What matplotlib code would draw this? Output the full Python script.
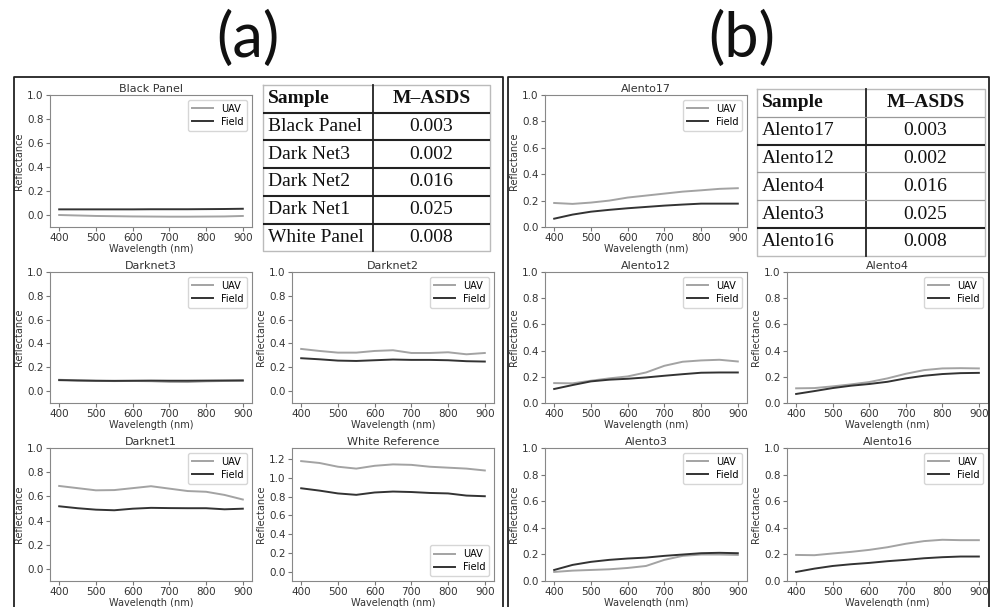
import matplotlib
matplotlib.use("Agg")
import matplotlib.pyplot as plt
from matplotlib.lines import Line2D

W, H = 991, 607

wavelength = [400, 450, 500, 550, 600, 650, 700, 750, 800, 850, 900]

# panel (a) spectra
black_uav = [0.0, -0.004, -0.008, -0.010, -0.012, -0.013, -0.014, -0.014, -0.013, -0.012, -0.008]
black_field = [0.047, 0.047, 0.047, 0.047, 0.047, 0.048, 0.048, 0.048, 0.049, 0.050, 0.052]
dn3_uav = [0.095, 0.090, 0.086, 0.084, 0.085, 0.083, 0.077, 0.076, 0.082, 0.085, 0.086]
dn3_field = [0.092, 0.089, 0.087, 0.086, 0.087, 0.088, 0.087, 0.087, 0.088, 0.089, 0.090]
dn2_uav = [0.354, 0.337, 0.323, 0.323, 0.337, 0.343, 0.320, 0.320, 0.326, 0.309, 0.320]
dn2_field = [0.276, 0.267, 0.256, 0.253, 0.259, 0.265, 0.262, 0.262, 0.259, 0.251, 0.248]
dn1_uav = [0.686, 0.668, 0.650, 0.652, 0.668, 0.684, 0.664, 0.644, 0.638, 0.612, 0.574]
dn1_field = [0.518, 0.502, 0.490, 0.485, 0.498, 0.505, 0.503, 0.502, 0.502, 0.493, 0.498]
white_uav = [1.18, 1.16, 1.12, 1.10, 1.13, 1.145, 1.14, 1.12, 1.11, 1.10, 1.08]
white_field = [0.89, 0.865, 0.835, 0.82, 0.845, 0.855, 0.85, 0.84, 0.835, 0.812, 0.805]

# panel (b) spectra
a17_uav = [0.182, 0.175, 0.185, 0.200, 0.223, 0.238, 0.253, 0.268, 0.278, 0.289, 0.294]
a17_field = [0.063, 0.094, 0.116, 0.130, 0.142, 0.152, 0.162, 0.170, 0.177, 0.177, 0.177]
a12_uav = [0.152, 0.150, 0.170, 0.188, 0.203, 0.233, 0.284, 0.315, 0.325, 0.330, 0.317]
a12_field = [0.107, 0.137, 0.165, 0.178, 0.185, 0.195, 0.208, 0.220, 0.231, 0.233, 0.233]
a4_uav = [0.112, 0.114, 0.127, 0.142, 0.160, 0.188, 0.223, 0.251, 0.264, 0.266, 0.264]
a4_field = [0.069, 0.091, 0.114, 0.132, 0.145, 0.162, 0.188, 0.208, 0.221, 0.228, 0.230]
a3_uav = [0.068, 0.078, 0.083, 0.088, 0.098, 0.113, 0.159, 0.189, 0.199, 0.199, 0.196]
a3_field = [0.083, 0.121, 0.144, 0.159, 0.169, 0.176, 0.189, 0.199, 0.209, 0.212, 0.209]
a16_uav = [0.196, 0.194, 0.207, 0.219, 0.234, 0.254, 0.280, 0.300, 0.310, 0.307, 0.307]
a16_field = [0.068, 0.093, 0.113, 0.126, 0.136, 0.149, 0.159, 0.171, 0.179, 0.184, 0.184]

# tables
table_a_samples = ["Black Panel", "Dark Net3", "Dark Net2", "Dark Net1", "White Panel"]
table_a_values = ["0.003", "0.002", "0.016", "0.025", "0.008"]
table_b_samples = ["Alento17", "Alento12", "Alento4", "Alento3", "Alento16"]
table_b_values = ["0.003", "0.002", "0.016", "0.025", "0.008"]

UAV_C = "#a3a3a3"
FIELD_C = "#333333"
TXT_C = "#333333"


def px_rect(l, t, r, b):
    return [l / W, 1 - b / H, (r - l) / W, (b - t) / H]


fig = plt.figure(figsize=(W / 100, H / 100), dpi=100)


def spectrum(box, title, uav, field, ylim, yticks, leg_loc="upper right"):
    ax = fig.add_axes(px_rect(*box))
    ax.plot(wavelength, uav, color=UAV_C, lw=1.4, label="UAV")
    ax.plot(wavelength, field, color=FIELD_C, lw=1.4, label="Field")
    ax.set_ylim(*ylim)
    ax.set_yticks(yticks)
    ax.set_xticks([400, 500, 600, 700, 800, 900])
    ax.set_title(title, fontsize=8, pad=2, color=TXT_C)
    ax.set_xlabel("Wavelength (nm)", fontsize=7, labelpad=0.5, color=TXT_C)
    ax.set_ylabel("Reflectance", fontsize=7, labelpad=2, color=TXT_C)
    ax.tick_params(labelsize=7.5, length=3, pad=1.5, colors=TXT_C, color="#777777")
    for s in ax.spines.values():
        s.set_color("#888888")
    ax.legend(loc=leg_loc, fontsize=7, frameon=True, edgecolor="#cccccc",
              borderpad=0.4, handlelength=2.2, labelspacing=0.3)
    return ax


ticks_a = [0.0, 0.2, 0.4, 0.6, 0.8, 1.0]
ticks_w = [0.0, 0.2, 0.4, 0.6, 0.8, 1.0, 1.2]

rows = [(95, 227), (272, 403), (448, 581)]
col_a = [(50, 252), (292, 494)]
col_b = [(545, 747), (787, 988)]

spectrum((col_a[0][0], rows[0][0], col_a[0][1], rows[0][1]), "Black Panel",
         black_uav, black_field, (-0.1, 1.0), ticks_a)
spectrum((col_a[0][0], rows[1][0], col_a[0][1], rows[1][1]), "Darknet3",
         dn3_uav, dn3_field, (-0.1, 1.0), ticks_a)
spectrum((col_a[1][0], rows[1][0], col_a[1][1], rows[1][1]), "Darknet2",
         dn2_uav, dn2_field, (-0.1, 1.0), ticks_a)
spectrum((col_a[0][0], rows[2][0], col_a[0][1], rows[2][1]), "Darknet1",
         dn1_uav, dn1_field, (-0.1, 1.0), ticks_a)
spectrum((col_a[1][0], rows[2][0], col_a[1][1], rows[2][1]), "White Reference",
         white_uav, white_field, (-0.1, 1.32), ticks_w, leg_loc="lower right")

spectrum((col_b[0][0], rows[0][0], col_b[0][1], rows[0][1]), "Alento17",
         a17_uav, a17_field, (0.0, 1.0), ticks_a)
spectrum((col_b[0][0], rows[1][0], col_b[0][1], rows[1][1]), "Alento12",
         a12_uav, a12_field, (0.0, 1.0), ticks_a)
spectrum((col_b[1][0], rows[1][0], col_b[1][1], rows[1][1]), "Alento4",
         a4_uav, a4_field, (0.0, 1.0), ticks_a)
spectrum((col_b[0][0], rows[2][0], col_b[0][1], rows[2][1]), "Alento3",
         a3_uav, a3_field, (0.0, 1.0), ticks_a)
spectrum((col_b[1][0], rows[2][0], col_b[1][1], rows[2][1]), "Alento16",
         a16_uav, a16_field, (0.0, 1.0), ticks_a)


def table(left, top, right, divider, row_h, samples, values, dark_lines):
    n = len(samples) + 1
    bottom = top + n * row_h
    ax = fig.add_axes(px_rect(left, top, right, bottom))
    ax.set_xlim(left, right)
    ax.set_ylim(bottom, top)
    ax.axis("off")
    # outer border
    ax.plot([left, right, right, left, left], [top, top, bottom, bottom, top],
            color="#bbbbbb", lw=1, clip_on=False)
    ax.plot([divider, divider], [top, bottom], color="#222222", lw=1.3, clip_on=False)
    for i in range(1, n):
        y = top + i * row_h
        if i in dark_lines:
            ax.plot([left, right], [y, y], color="#222222", lw=1.5)
        else:
            ax.plot([left, right], [y, y], color="#999999", lw=0.9)
    vc = (divider + right) / 2
    font = dict(family="Liberation Serif", fontsize=14, color="#111111", va="center")
    ax.text(left + 5, top + row_h / 2, "Sample", fontweight="bold", ha="left", **font)
    ax.text(vc, top + row_h / 2, "M\u2013ASDS", fontweight="bold", ha="center", **font)
    for i, (s, v) in enumerate(zip(samples, values)):
        yc = top + (i + 1.5) * row_h
        ax.text(left + 5, yc, s, ha="left", **font)
        ax.text(vc, yc, v, ha="center", **font)


table(263, 85, 490, 373, 27.7, table_a_samples, table_a_values, {1, 2, 3, 4, 5})
table(757, 89, 985, 866, 27.8, table_b_samples, table_b_values, {2, 5})

# panel frames
def frame(x0, x1, y0, y1):
    xs = [x0, x0, x1, x1]
    ys = [y1, y0, y0, y1]
    fig.add_artist(Line2D([x / W for x in xs], [1 - y / H for y in ys],
                          transform=fig.transFigure, color="#222222", lw=1.3))


frame(14, 503, 77, 612)
frame(508, 989, 77, 612)

fig.text(248 / W, 1 - 39 / H, "(a)", fontsize=44, family="Lato",
         ha="center", va="center", color="#111111")
fig.text(742 / W, 1 - 39 / H, "(b)", fontsize=44, family="Lato",
         ha="center", va="center", color="#111111")

fig.savefig("out.png", dpi=100)
